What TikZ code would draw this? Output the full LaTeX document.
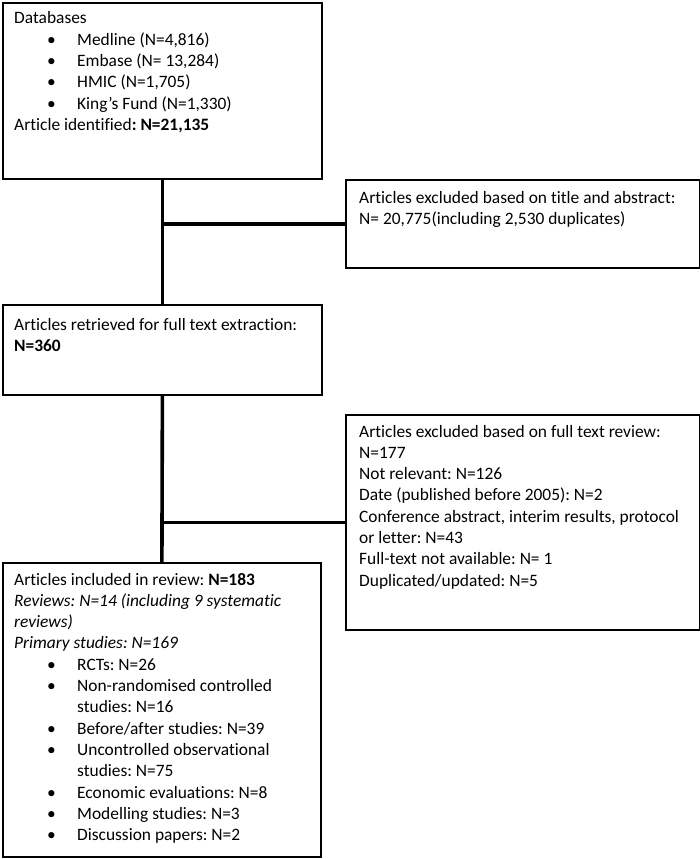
\documentclass[tikz,border=0pt]{standalone}
\usepackage{fontspec}
\setmainfont{Carlito}[Ligatures=NoCommon]
\frenchspacing
\newcommand\bl[1]{\par\hangindent=63pt\hangafter=1\noindent\hspace*{33pt}\makebox[30pt][l]{\textbullet}#1}
\newcommand\pl[1]{\par\noindent #1}
\begin{document}
\frenchspacing
\begin{tikzpicture}[x=1pt,y=-1pt,
  box/.style={draw=black, line width=1.8pt, rectangle, inner sep=0pt, anchor=north west},
  conn/.style={draw=black, line width=3.6pt},
  txt/.style={anchor=base west, inner sep=0pt, font=\fontsize{17.4}{21.3}\selectfont\frenchspacing}]
\useasboundingbox[fill=white] (0,0) rectangle (700,859);
% boxes
\node[box, minimum width=319pt, minimum height=176pt] (db) at (2,2) {};
\node[box, minimum width=354pt, minimum height=88pt] (ex1) at (345,179) {};
\node[box, minimum width=319pt, minimum height=90pt] (ret) at (2,304) {};
\node[box, minimum width=354pt, minimum height=215pt] (ex2) at (345,414) {};
\node[box, minimum width=318pt, minimum height=294pt] (inc) at (2,562) {};
% connectors
\draw[conn] (db.south) -- (ret.north);
\draw[conn] (ret.south) -- (inc.north);
\draw[conn] (ex1.west) -- (ex1.west -| db.south);
\draw[conn] (ex2.west) -- (ex2.west -| ret.south);
% texts
\node[txt] (tdb) at (14,24) {\parbox[t]{300pt}{\raggedright
\pl{Databases}
\bl{Medline (N=4,816)}
\bl{Embase (N= 13,284)}
\bl{HMIC (N=1,705)}
\bl{King’s Fund (N=1,330)}
\pl{Article identified\textbf{: N=21,135}}}};
\node[txt] (tex1) at (359,203) {\parbox[t]{335pt}{\raggedright
\pl{Articles excluded based on title and abstract:}
\pl{N= 20,775(including 2,530 duplicates)}}};
\node[txt] (tret) at (14,330) {\parbox[t]{300pt}{\raggedright
\pl{Articles retrieved for full text extraction:}
\pl{\textbf{N=360}}}};
\node[txt] (tex2) at (359,437) {\parbox[t]{335pt}{\raggedright
\pl{Articles excluded based on full text review:}
\pl{N=177}
\pl{Not relevant: N=126}
\pl{Date (published before 2005): N=2}
\pl{Conference abstract, interim results, protocol}
\pl{or letter: N=43}
\pl{Full-text not available: N= 1}
\pl{Duplicated/updated: N=5}}};
\node[txt] (tinc) at (14,585) {\parbox[t]{300pt}{\raggedright
\pl{Articles included in review: \textbf{N=183}}
\pl{\textit{Reviews: N=14 (including 9 systematic}}
\pl{\textit{reviews)}}
\pl{\textit{Primary studies: N=169}}
\bl{RCTs: N=26}
\bl{Non-randomised controlled\newline studies: N=16}
\bl{Before/after studies: N=39}
\bl{Uncontrolled observational\newline studies: N=75}
\bl{Economic evaluations: N=8}
\bl{Modelling studies: N=3}
\bl{Discussion papers: N=2}}};
\end{tikzpicture}
\end{document}
